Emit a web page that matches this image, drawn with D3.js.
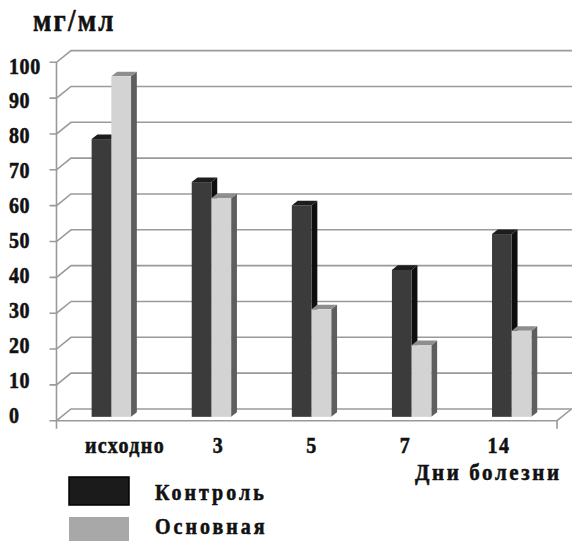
<!DOCTYPE html>
<html>
<head>
<meta charset="utf-8">
<script src="https://cdn.jsdelivr.net/npm/d3@7"></script>
<style>
  html, body { margin: 0; padding: 0; background: #fff; }
  svg { display: block; }
  text { font-family: "Liberation Serif", "Times New Roman", serif; font-weight: bold; fill: #111; stroke: #111; stroke-width: 0.5px; }
</style>
</head>
<body>
<svg id="chart" width="572" height="541"></svg>
<script>
// Days of illness and measured level (мг/мл) for both groups
const days = ["исходно", "3", "5", "7", "14"];
const controlValues = [77.5, 65.5, 59, 41, 51];
const mainValues = [95, 61, 30, 20, 24];
const yTicks = [0, 10, 20, 30, 40, 50, 60, 70, 80, 90, 100];
const seriesNames = ["Контроль", "Основная"];

const svg = d3.select("#chart");

// Front plane of the 3D box
const y = d3.scaleLinear().domain([0, 100]).range([420.7, 62.3]);
const x = d3.scaleBand().domain(days).range([56.5, 557]);
// Depth of the box: full depth offset, bar plane offset and bar thickness
const depth = { dx: 14.5, dy: 11.7 };
const barZ = 0.33, barDepth = 0.4, barW = 19.7;
// Tick label positions
const yLabel = d3.scaleLinear().domain([0, 100]).range([415.7, 66]);
const xLabel = d3.scalePoint().domain(days).range([125, 499]);

// Text in a slightly tall serif face
const TALL = 1.14;
function label(parent, px, py, size, spacing, str, anchor) {
  return parent.append("text")
    .attr("transform", `translate(${px},${py}) scale(1,${TALL})`)
    .attr("font-size", size).attr("letter-spacing", spacing)
    .attr("text-anchor", anchor || "start")
    .text(str);
}

const x0 = x.range()[0], x1 = x.range()[1];
const rightEdge = 572;
const grid = svg.append("g").attr("fill", "none").attr("stroke", "#9a9a9a").attr("stroke-width", 1.6);

// Wall gridlines: short tick, diagonal into the depth, then along the back wall
yTicks.forEach(v => {
  const yy = y(v);
  grid.append("path")
    .attr("d", `M${x0 - 7},${yy} L${x0},${yy} L${x0 + depth.dx},${yy - depth.dy} L${rightEdge},${yy - depth.dy}`);
});
// Floor front edge and right side
grid.append("path")
  .attr("d", `M${x0},${y(0)} L${x1},${y(0)} L${x1 + depth.dx},${y(0) - depth.dy}`);
// Vertical axis and end ticks
grid.append("path").attr("d", `M${x0},${y(100)} L${x0},${y(0) + 8}`);
grid.append("path").attr("d", `M${x1},${y(0)} L${x1},${y(0) + 8}`);

// 3D bars
const bdx = depth.dx * barZ, bdy = depth.dy * barZ;
const tdx = depth.dx * barDepth, tdy = depth.dy * barDepth;
const styles = [
  { front: "#3b3b3b", side: "#0e0e0e", top: "#1d1d1d" },
  { front: "#d3d3d3", side: "#5e5e5e", top: "#8e8e8e" }
];
const bars = svg.append("g");
[controlValues, mainValues].forEach((vals, s) => {
  days.forEach((d, i) => {
    const c = x(d) + x.bandwidth() / 2 + bdx;
    const left = s === 0 ? c - barW : c;
    const right = left + barW;
    const top = y(vals[i]) - bdy;
    const base = y(0) - bdy;
    const st = styles[s];
    const g = bars.append("g");
    g.append("path").attr("fill", st.side)
      .attr("d", `M${right},${top} L${right + tdx},${top - tdy} L${right + tdx},${base - tdy} L${right},${base} Z`);
    g.append("path").attr("fill", st.top)
      .attr("d", `M${left},${top} L${left + tdx},${top - tdy} L${right + tdx},${top - tdy} L${right},${top} Z`);
    g.append("rect").attr("fill", st.front)
      .attr("x", left).attr("y", top).attr("width", barW).attr("height", base - top);
  });
});

// Y tick labels
const yl = svg.append("g");
yTicks.forEach(v => label(yl, 9, yLabel(v) + 7.5, 20, 0.6, v));

// Category labels
const xl = svg.append("g");
days.forEach(d => label(xl, xLabel(d), 453, 20, 1.4, d, "middle"));

// Units and axis title
label(svg, 33, 31, 27, 2.2, "мг/мл");
label(svg, 415, 480, 21, 2.6, "Дни болезни");

// Legend
const legendColors = ["#1b1b1b", "#a8a8a8"];
const legendRectY = [477, 517];
const legendTextY = [500, 534];
const legend = svg.append("g");
seriesNames.forEach((name, i) => {
  legend.append("rect").attr("x", 69).attr("y", legendRectY[i]).attr("width", 60).attr("height", 28)
    .attr("fill", legendColors[i]).attr("stroke", i === 0 ? "#000" : "none").attr("stroke-width", 1.5);
  label(legend, 155, legendTextY[i], 20, 3, name);
});
</script>
</body>
</html>
